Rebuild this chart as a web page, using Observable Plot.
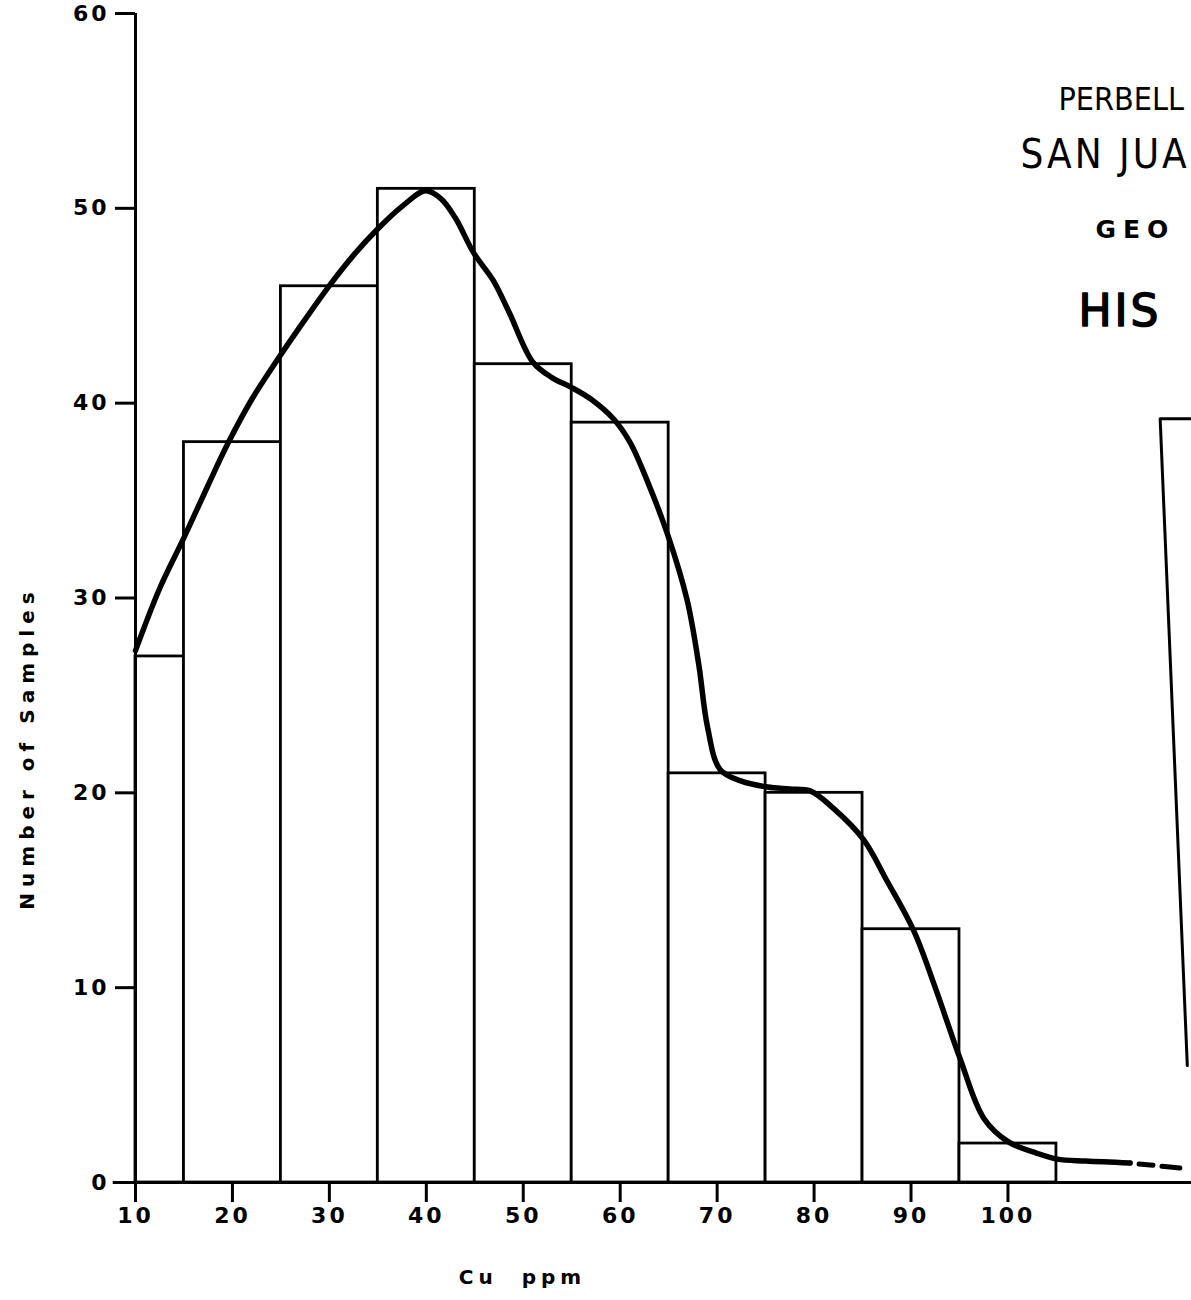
<!DOCTYPE html>
<html><head><meta charset="utf-8">
<script src="https://cdn.jsdelivr.net/npm/d3@7"></script>
<script src="https://cdn.jsdelivr.net/npm/@observablehq/plot@0.6"></script>
<style>
html,body{margin:0;padding:0;background:#fff;overflow:hidden;}
#chart svg{overflow:hidden;display:block;}
</style></head><body><div id="chart"></div>
<script>
// Histogram bins (Cu ppm) and counts
const binStart = [10, 15, 25, 35, 45, 55, 65, 75, 85, 95];
const binEnd   = [15, 25, 35, 45, 55, 65, 75, 85, 95, 105];
const counts   = [27, 38, 46, 51, 42, 39, 21, 20, 13, 2];

// Hand-drawn smoothed curve
const curveX = [10, 12.5, 15, 17.5, 19.5, 22, 24.6, 27.5, 30.1, 32.5, 34.9, 37.5, 39.9, 41.5, 43, 44.9, 46.9, 48.6, 51, 53, 55, 57, 59.3, 61, 62.8, 65, 66.9, 68.1, 69, 70.3, 72.5, 75.2, 77.5, 79.6, 82, 85.1, 87.5, 90.3, 92.5, 95.1, 97.5, 100, 103, 105.1, 108, 112.6];
const curveY = [27.3, 30.5, 33.1, 35.8, 37.9, 40.2, 42.2, 44.3, 46.1, 47.6, 48.9, 50.1, 50.9, 50.5, 49.5, 47.7, 46.3, 44.6, 42.1, 41.3, 40.8, 40.2, 39.2, 38.0, 36.0, 33.1, 29.9, 26.6, 23.4, 21.2, 20.6, 20.3, 20.2, 20.1, 19.2, 17.6, 15.5, 12.9, 10.0, 6.3, 3.3, 2.1, 1.5, 1.2, 1.1, 1.0];
// Dashed extrapolated tail
const tailX = [112.6, 118.7];
const tailY = [1.0, 0.7];

// Axis ticks
const xTicks = [10, 20, 30, 40, 50, 60, 70, 80, 90, 100];
const yTicks = [0, 10, 20, 30, 40, 50, 60];

// Partially visible legend box at right edge
const boxX = [119.5, 115.7, 118.5];
const boxY = [39.2, 39.2, 6.0];

// Texts (only the parts visible inside the frame)
const titleLines = ["PERBELL", "SAN JUA", "GEO", "HIS"];
const xLabel = "Cu  ppm";
const yLabel = "Number of Samples";

const bins = binStart.map((s, i) => ({x1: s, x2: binEnd[i], count: counts[i]}));
const curve = curveX.map((x, i) => ({x, y: curveY[i]}));
const tail = tailX.map((x, i) => ({x, y: tailY[i]}));
const box = boxX.map((x, i) => ({x, y: boxY[i]}));

const xMax = 10 + 1056 / 9.694;
const narrow = "Liberation Sans Narrow, DejaVu Sans Condensed, DejaVu Sans";

const chart = Plot.plot({
  width: 1191, height: 1300,
  marginLeft: 135, marginRight: 0, marginTop: 13, marginBottom: 118,
  x: {domain: [10, xMax], axis: null},
  y: {domain: [0, 60], axis: null},
  style: {fontFamily: "DejaVu Sans", background: "white", color: "black"},
  marks: [
    Plot.rectY(bins, {x1: "x1", x2: "x2", y: "count", fill: "white", stroke: "black", strokeWidth: 2.8}),
    Plot.line(curve, {x: "x", y: "y", curve: "catmull-rom", stroke: "black", strokeWidth: 5.5, strokeLinecap: "round"}),
    Plot.line(tail, {x: "x", y: "y", stroke: "black", strokeWidth: 5, strokeDasharray: "0 9 14 9 18 100"}),
    Plot.line(box, {x: "x", y: "y", stroke: "black", strokeWidth: 3}),
    Plot.ruleX([10], {y1: 0, y2: 60, stroke: "black", strokeWidth: 3}),
    Plot.ruleY([0], {x1: 7.7, x2: xMax, stroke: "black", strokeWidth: 3}),
    Plot.axisX(xTicks, {tickSize: 20, tickPadding: 5, strokeWidth: 3, fontSize: 22, fontWeight: "bold", tickFormat: d => String(d), label: null}),
    Plot.axisY(yTicks, {tickSize: 20, tickPadding: 6, strokeWidth: 3, fontSize: 22, fontWeight: "bold", tickFormat: d => String(d), label: null}),
    Plot.text([titleLines[0]], {frameAnchor: "top-left", dx: 923, dy: 96, textAnchor: "start", lineAnchor: "bottom", fontSize: 32, fontFamily: narrow}),
    Plot.text([titleLines[1]], {frameAnchor: "top-left", dx: 885, dy: 154, textAnchor: "start", lineAnchor: "bottom", fontSize: 40, fontFamily: narrow}),
    Plot.text([titleLines[2]], {frameAnchor: "top-left", dx: 960, dy: 224, textAnchor: "start", lineAnchor: "bottom", fontSize: 25, fontWeight: "bold", fontFamily: "DejaVu Sans"}),
    Plot.text([titleLines[3]], {frameAnchor: "top-left", dx: 943, dy: 312, textAnchor: "start", lineAnchor: "bottom", fontSize: 44, fontFamily: "DejaVu Sans", fill: "black", stroke: "black", strokeWidth: 1.6}),
    Plot.text([yLabel], {frameAnchor: "left", dx: -108, dy: 150, rotate: -90, textAnchor: "middle", fontSize: 20, fontWeight: "bold"}),
    Plot.text([xLabel], {frameAnchor: "bottom", dx: -141, dy: 101, textAnchor: "middle", lineAnchor: "bottom", fontSize: 20, fontWeight: "bold"})
  ]
});
document.getElementById("chart").appendChild(chart);
const svg = d3.select(chart);
svg.selectAll('g[aria-label="x-axis tick label"] text, g[aria-label="y-axis tick label"] text').style("letter-spacing", "3px");
const spacing = new Map([
  [titleLines[0], "0px"], [titleLines[1], "3px"], [titleLines[2], "7px"],
  [titleLines[3], "3px"], [yLabel, "6px"], [xLabel, "5px"]
]);
svg.selectAll("text").each(function () {
  const s = spacing.get(this.textContent);
  if (s) this.style.letterSpacing = s;
});
</script></body></html>
